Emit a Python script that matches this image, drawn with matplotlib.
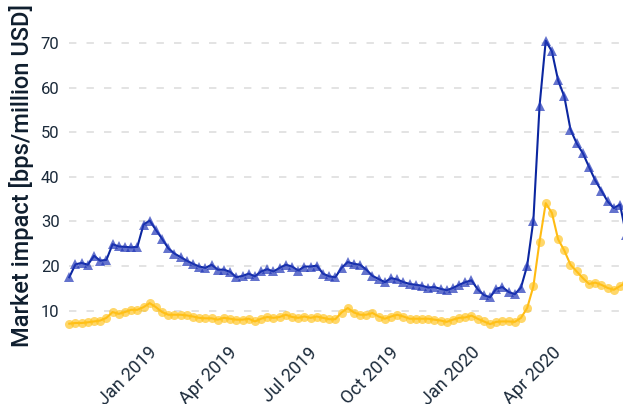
import matplotlib
matplotlib.use("Agg")
import matplotlib.pyplot as plt
import matplotlib.dates as mdates
import matplotlib.transforms as mtrans
import pandas as pd

plt.rcParams["font.family"] = ["Roboto", "DejaVu Sans"]

# weekly observations starting Mon 24 Sep 2018
weeks = pd.date_range("2018-09-24", periods=91, freq="W-MON")

impact_blue = [
    17.5, 20.4, 20.7, 20.3, 22.3, 21.2, 21.4, 24.9, 24.4, 24.3,
    24.2, 24.3, 29.3, 30.2, 28.1, 26.1, 24.0, 22.8, 22.0, 21.2,
    20.5, 19.9, 19.6, 20.3, 19.2, 19.2, 18.7, 17.5, 17.8, 18.3,
    17.7, 18.8, 19.3, 18.8, 19.6, 20.3, 19.9, 19.0, 19.9, 19.9,
    20.1, 18.3, 17.7, 17.5, 19.6, 20.9, 20.5, 20.3, 19.2, 17.8,
    17.1, 16.4, 17.3, 17.0, 16.4, 16.0, 15.8, 15.6, 15.2, 15.3,
    14.9, 14.6, 15.1, 15.8, 16.4, 16.8, 14.8, 13.5, 13.0, 14.9,
    15.3, 14.2, 13.7, 15.2, 20.1, 30.2, 55.9, 70.5, 68.1, 61.6,
    58.0, 50.6, 47.5, 45.3, 42.2, 39.2, 36.9, 34.5, 33.0, 33.8,
    27.0,
]

impact_yellow = [
    7.1, 7.25, 7.25, 7.4, 7.6, 7.8, 8.4, 9.7, 9.3, 9.7,
    10.2, 10.2, 10.8, 11.7, 10.8, 9.7, 9.1, 9.1, 9.1, 8.95,
    8.7, 8.4, 8.3, 8.3, 8.0, 8.4, 8.2, 8.0, 8.0, 8.2,
    7.6, 8.2, 8.6, 8.4, 8.6, 9.1, 8.6, 8.4, 8.7, 8.4,
    8.7, 8.4, 8.1, 8.1, 9.6, 10.6, 9.6, 9.1, 9.1, 9.5,
    8.7, 8.2, 8.7, 9.1, 8.7, 8.2, 8.2, 8.2, 8.2, 8.0,
    7.8, 7.5, 8.0, 8.4, 8.5, 8.9, 8.2, 7.6, 7.0, 7.5,
    7.6, 7.6, 7.5, 8.4, 10.6, 15.45, 25.5, 34.1, 31.9, 26.0,
    23.5, 20.3, 18.8, 17.3, 16.0, 16.3, 15.8, 15.1, 14.7, 15.5,
    16.3,
]

tick_dates = pd.to_datetime(["2019-01-01", "2019-04-01", "2019-07-01",
                             "2019-10-01", "2020-01-01", "2020-04-01"])
y_ticks = [10, 20, 30, 40, 50, 60, 70]

text_col = "#1b2a3a"
blue_line, blue_mark = "#0b26a0", "#2238b8"
yel_line, yel_mark = "#ffbb12", "#ffc21a"

fig = plt.figure(figsize=(6.23, 4.04), dpi=100)
ax = fig.add_axes([0.1112, 0.1646, 0.8888, 0.7733])

ax.plot(weeks, impact_blue, color=blue_line, lw=1.5, zorder=3, clip_on=False)
ax.plot(weeks, impact_blue, ls="none", marker="^", ms=6.5, mew=0,
        color=blue_mark, alpha=0.7, zorder=4, clip_on=False)
ax.plot(weeks, impact_yellow, color=yel_line, lw=1.5, zorder=3, clip_on=False)
ax.plot(weeks, impact_yellow, ls="none", marker="o", ms=6.5, mew=0,
        color=yel_mark, alpha=0.65, zorder=4, clip_on=False)

ax.set_ylim(4, 74)
ax.set_xlim(weeks[0], weeks[0] + pd.Timedelta(days=626.4))
ax.set_yticks(y_ticks)
ax.set_xticks(tick_dates)
ax.xaxis.set_major_formatter(mdates.DateFormatter("%b %Y"))

ax.grid(axis="y", color="#e3e3e3", lw=1.4, dashes=(3.8, 5.2))
ax.set_axisbelow(True)
for s in ax.spines.values():
    s.set_visible(False)

ax.tick_params(axis="both", length=0, colors=text_col)
ax.tick_params(axis="y", pad=7, labelsize=12)
ax.tick_params(axis="x", pad=9, labelsize=13)
shift = mtrans.ScaledTranslation(-2 / 100, 0, fig.dpi_scale_trans)
for lbl in ax.get_xticklabels():
    lbl.set_rotation(45)
    lbl.set_ha("right")
    lbl.set_va("center")
    lbl.set_rotation_mode("anchor")
    lbl.set_transform(lbl.get_transform() + shift)

fig.text(22 / 623, 0.5644, "Market impact [bps/million USD]", rotation=90,
         ha="center", va="center", fontsize=17, fontweight="medium",
         color="#0f1e2e")

fig.savefig("out.png", dpi=100)
